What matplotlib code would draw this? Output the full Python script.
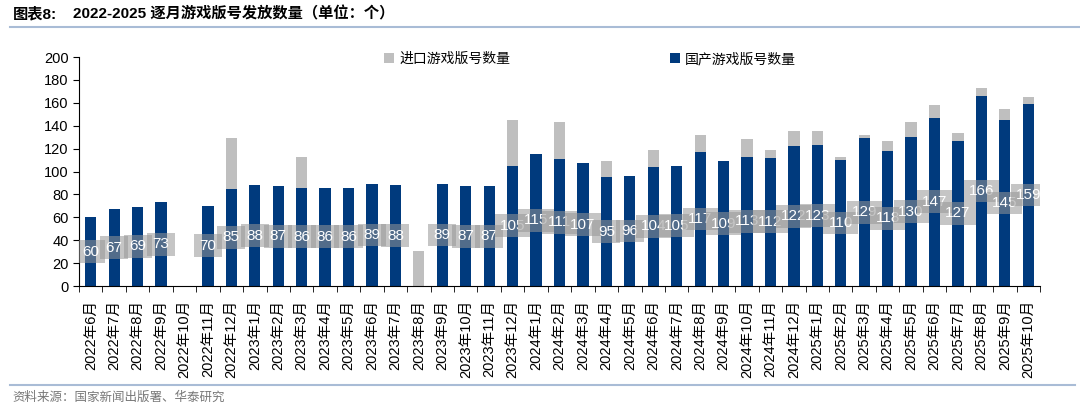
import matplotlib
matplotlib.use("Agg")
import matplotlib.pyplot as plt
from matplotlib.patches import Rectangle
from matplotlib.lines import Line2D
import numpy as np

plt.rcParams["font.family"] = ["Liberation Sans", "Noto Sans CJK SC", "DejaVu Sans"]

months = [
    "2022年6月", "2022年7月", "2022年8月", "2022年9月", "2022年10月", "2022年11月", "2022年12月",
    "2023年1月", "2023年2月", "2023年3月", "2023年4月", "2023年5月", "2023年6月", "2023年7月",
    "2023年8月", "2023年9月", "2023年10月", "2023年11月", "2023年12月",
    "2024年1月", "2024年2月", "2024年3月", "2024年4月", "2024年5月", "2024年6月", "2024年7月",
    "2024年8月", "2024年9月", "2024年10月", "2024年11月", "2024年12月",
    "2025年1月", "2025年2月", "2025年3月", "2025年4月", "2025年5月", "2025年6月", "2025年7月",
    "2025年8月", "2025年9月", "2025年10月",
]
domestic = [60, 67, 69, 73, 0, 70, 85,
            88, 87, 86, 86, 86, 89, 88,
            0, 89, 87, 87, 105,
            115, 111, 107, 95, 96, 104, 105,
            117, 109, 113, 112, 122,
            123, 110, 129, 118, 130, 147, 127,
            166, 145, 159]
imported = [0, 0, 0, 0, 0, 0, 44,
            0, 0, 27, 0, 0, 0, 0,
            31, 0, 0, 0, 40,
            0, 32, 0, 14, 0, 15, 0,
            15, 0, 15, 7, 13,
            12, 3, 3, 9, 13, 11, 7,
            7, 10, 6]

BLUE = "#003A7D"
GREY = "#BFBFBF"

fig = plt.figure(figsize=(10.8, 4.11), dpi=100)
ax = fig.add_axes([79 / 1080, 1 - 286 / 411, (1040 - 79) / 1080, (286 - 57) / 411])

x = np.arange(len(months))
ax.bar(x, domestic, width=0.48, color=BLUE, label="国产游戏版号数量", zorder=2)
ax.bar(x, imported, width=0.48, bottom=domestic, color=GREY, label="进口游戏版号数量", zorder=2)

# value boxes on the domestic bars
for i, d in enumerate(domestic):
    if d == 0:
        continue
    w = 1.2 if d < 100 else 1.5
    z = 3 + i * 0.01
    ax.add_patch(Rectangle((i - w / 2, d / 2 - 10), w, 20, facecolor="#969696",
                           alpha=0.55, edgecolor="none", zorder=z))
    ax.text(i, d / 2, str(d), ha="center", va="center", color="white",
            fontsize=11, zorder=z + 0.005)

ax.set_xlim(-0.5, len(months) - 0.5)
ax.set_ylim(0, 200)
ax.set_yticks(range(0, 201, 20))
ax.tick_params(axis="y", labelsize=10.5, length=4, direction="out")
ax.set_xticks(x)
ax.set_xticklabels(months, rotation=90, fontsize=10.5)
ax.set_xticks(np.arange(-0.5, len(months), 1), minor=True)
ax.tick_params(axis="x", which="major", length=0, pad=10)
ax.tick_params(axis="x", which="minor", length=4, direction="out")
for s in ["top", "right"]:
    ax.spines[s].set_visible(False)

handles, labels = ax.get_legend_handles_labels()
ax.legend(handles[::-1], labels[::-1], ncol=2, frameon=False, fontsize=10,
          loc="center", bbox_to_anchor=(590 / 1080, 1 - 59 / 411),
          bbox_transform=fig.transFigure, handlelength=0.7, handleheight=0.7,
          handletextpad=0.4, columnspacing=11.5)

fig.text(13 / 1080, 1 - 14 / 411, "图表8:", fontsize=11, fontweight="bold",
         va="center", ha="left")
fig.text(73 / 1080, 1 - 14 / 411, "2022-2025 逐月游戏版号发放数量（单位：个）",
         fontsize=11, fontweight="bold", va="center", ha="left")
fig.add_artist(Line2D([10 / 1080, 1], [1 - 27 / 411] * 2, transform=fig.transFigure,
                      color="#A9BCD6", lw=1.5))
fig.add_artist(Line2D([10 / 1080, 1075 / 1080], [1 - 385 / 411] * 2, transform=fig.transFigure,
                      color="#A9BCD6", lw=1.5))
fig.text(12 / 1080, 1 - 398 / 411, "资料来源：国家新闻出版署、华泰研究",
         fontsize=9, color="#777777", va="center", ha="left")

fig.savefig("out.png", dpi=100)
